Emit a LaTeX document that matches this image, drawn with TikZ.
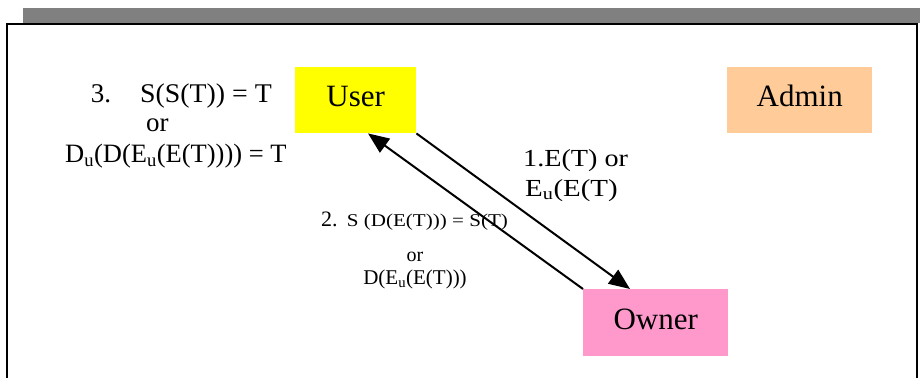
\documentclass[tikz,border=0pt]{standalone}
\usepackage{fontspec}
\setmainfont{Liberation Serif}
\usetikzlibrary{arrows.meta,calc}

\definecolor{barGray}{HTML}{808080}
\definecolor{userYellow}{HTML}{FFFF00}
\definecolor{adminPeach}{HTML}{FFCC99}
\definecolor{ownerPink}{HTML}{FF99CC}

\newcommand{\fs}[1]{\fontsize{#1}{#1}\selectfont}

\tikzset{
  rolebox/.style={rectangle, inner sep=0pt, draw=none, font=\fs{31},
    minimum width=#1, text height=39.7pt, text depth=26.3pt},
  lbl/.style={inner sep=0pt, anchor=base west},
  lblc/.style={inner sep=0pt, anchor=base},
  msg/.style={line width=2pt, -{Triangle[length=21pt,width=17pt]}},
}

\begin{document}
\begin{tikzpicture}[x=1pt,y=-1pt]
\useasboundingbox (0,0) rectangle (920,378);

% heading bar and page frame
\fill[barGray] (23,8) rectangle (920,23);
\draw[line width=2pt] (7,378) -- (7,24) -- (917,24) -- (917,378);

% actors
\node[rolebox=121pt, fill=userYellow, anchor=north west] (user) at (295,67) {User};
\node[rolebox=145pt, fill=adminPeach, anchor=north west] (admin) at (727,67) {Admin};
\node[rolebox=145pt, fill=ownerPink, text height=40.3pt, text depth=26.7pt,
      anchor=north west] (owner) at (583,289) {Owner};

% message flows
\draw[msg] (user.south east) -- ($(owner.north west)+(47,0)$);
\draw[msg] (owner.north west) -- ($(user.south west)+(73,0)$);

% step 3 (left)
\node[lbl, font=\fs{27}] (s3num) at (90.7,102.7) {3.};
\node[lbl, font=\fs{27}] (s3a) at (140,102.7) {\scalebox{1.03}[1]{S(S(T)) = T}};
\node[lbl, font=\fs{27}] (s3or) at (146,131.7) {or};
\node[lbl, font=\fs{26.5}] (s3b) at (65,162.7) {D\textsubscript{u}(D(E\textsubscript{u}(E(T)))) = T};

% step 1
\node[lbl, font=\fs{24.5}] (s1a) at (523,166) {\scalebox{1.15}[1]{1.E(T) or}};
\node[lbl, font=\fs{24.5}] (s1b) at (525,196) {\scalebox{1.18}[1]{E\textsubscript{u}(E(T)}};

% step 2
\node[lbl, font=\fs{22}] (s2num) at (321,226.7) {2.};
\node[lbl, font=\fs{18}] (s2a) at (346.7,226.7) {\scalebox{1.17}[1]{S (D(E(T))) = S(T)}};
\node[lblc, font=\fs{20}] (s2or) at (415,261.7) {or};
\node[lblc, font=\fs{21}] (s2b) at (415,284) {D(E\textsubscript{u}(E(T)))};
\end{tikzpicture}
\end{document}
